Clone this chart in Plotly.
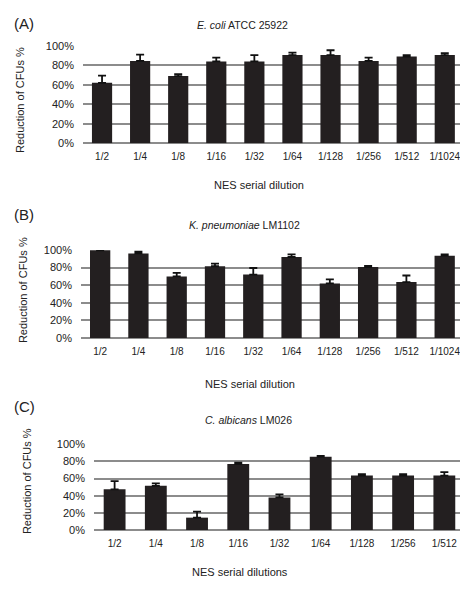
import plotly.graph_objects as go

# Serial dilutions tested for each organism
dilutions_ab = ["1/2", "1/4", "1/8", "1/16", "1/32", "1/64", "1/128", "1/256", "1/512", "1/1024"]
dilutions_c = ["1/2", "1/4", "1/8", "1/16", "1/32", "1/64", "1/128", "1/256", "1/512"]

# Mean reduction of CFUs (%) and upper error (SD)
ecoli_mean = [62, 84.5, 69, 84, 84, 90.5, 90.5, 84.5, 89, 90.5]
ecoli_err = [7.5, 6.5, 2, 4, 6.5, 2.5, 5, 3.5, 1.5, 2]

kpneu_mean = [99.5, 96, 70, 81.5, 72, 92, 62, 80.5, 63.5, 93.5]
kpneu_err = [0.5, 2, 4, 3, 7.5, 3, 4.5, 1.5, 7.5, 1.5]

calb_mean = [47.5, 51.5, 14.5, 77, 38, 85.5, 63.5, 63.5, 63.5]
calb_err = [9.5, 3, 7, 1.5, 3.5, 1, 1.5, 1.5, 4]

yticks = [0, 20, 40, 60, 80, 100]
ytick_labels = ["0%", "20%", "40%", "60%", "80%", "100%"]

W, H = 460, 589
FONT = "Liberation Sans, Arial, sans-serif"
BAR = "#231f20"
GRID = "#8c8c8c"
TXT = "#222222"

panels = [
    dict(cats=dilutions_ab, mean=ecoli_mean, err=ecoli_err, ypx=(140, 40.7), left=83, rng=[-0.5, 9.4],
         label="(A)", label_y=18, title="<i>E. coli</i> ATCC 25922", title_x=243, title_y=19,
         xtitle="NES serial dilution", xtitle_x=259, xtitle_y=183, ytitle_x=20, ytitle_y=96),
    dict(cats=dilutions_ab, mean=kpneu_mean, err=kpneu_err, ypx=(339, 249), left=81, rng=[-0.5, 9.4],
         label="(B)", label_y=213, title="<i>K. pneumoniae</i> LM1102", title_x=244, title_y=224,
         xtitle="NES serial dilution", xtitle_x=250, xtitle_y=386, ytitle_x=23, ytitle_y=290),
    dict(cats=dilutions_c, mean=calb_mean, err=calb_err, ypx=(535, 447.3), left=94, rng=[-0.5, 8.38],
         label="(C)", label_y=409, title="<i>C. albicans</i> LM026", title_x=248, title_y=423,
         xtitle="NES serial dilutions", xtitle_x=240, xtitle_y=578, ytitle_x=27, ytitle_y=485),
]

fig = go.Figure()
annotations = []

def px_to_paper_x(x):
    return x / W

def px_to_paper_y(y):
    return 1 - y / H

def note(text, x, y, size, **kw):
    return dict(text=text, x=px_to_paper_x(x), y=px_to_paper_y(y),
                xref="paper", yref="paper", xanchor=kw.pop("xanchor", "center"),
                yanchor="middle", showarrow=False,
                font=dict(family=FONT, size=size, color=TXT), **kw)

for i, p in enumerate(panels, start=1):
    xa = "x" if i == 1 else f"x{i}"
    ya = "y" if i == 1 else f"y{i}"
    fig.add_trace(go.Bar(
        x=p["cats"], y=p["mean"], xaxis=xa, yaxis=ya,
        marker=dict(color=BAR, line=dict(width=0)),
        error_y=dict(type="data", symmetric=False, array=p["err"],
                     arrayminus=[0] * len(p["err"]), color="#111111",
                     thickness=1.8, width=4),
        showlegend=False,
    ))
    xkey = "xaxis" if i == 1 else f"xaxis{i}"
    ykey = "yaxis" if i == 1 else f"yaxis{i}"
    fig.update_layout({
        xkey: dict(domain=[px_to_paper_x(p["left"]), 1], anchor=ya, range=p["rng"],
                   type="category", showgrid=False, showline=False, zeroline=False,
                   ticks="", ticklabelstandoff=6,
                   tickfont=dict(family=FONT, size=10, color=TXT)),
        ykey: dict(domain=[px_to_paper_y(p["ypx"][0]), px_to_paper_y(p["ypx"][1])],
                   anchor=xa, range=[0, 100], tickmode="array",
                   tickvals=yticks, ticktext=ytick_labels,
                   showgrid=True, gridcolor=GRID, gridwidth=2,
                   zeroline=True, zerolinecolor=GRID, zerolinewidth=2,
                   showline=False, ticks="", ticklabelstandoff=8,
                   tickfont=dict(family=FONT, size=11, color=TXT)),
    })
    annotations += [
        note(p["label"], 12, p["label_y"], 15, xanchor="left"),
        note(p["title"], p["title_x"], p["title_y"], 10.5),
        note(p["xtitle"], p["xtitle_x"], p["xtitle_y"], 11),
        note("Reduction of CFUs %", p["ytitle_x"], p["ytitle_y"], 11, textangle=-90),
    ]

fig.update_layout(
    width=W, height=H,
    margin=dict(l=0, r=0, t=0, b=0),
    paper_bgcolor="white", plot_bgcolor="white",
    bargap=0.47,
    annotations=annotations,
    font=dict(family=FONT, color=TXT),
)

fig.write_html("out.html", config={"displayModeBar": False})
